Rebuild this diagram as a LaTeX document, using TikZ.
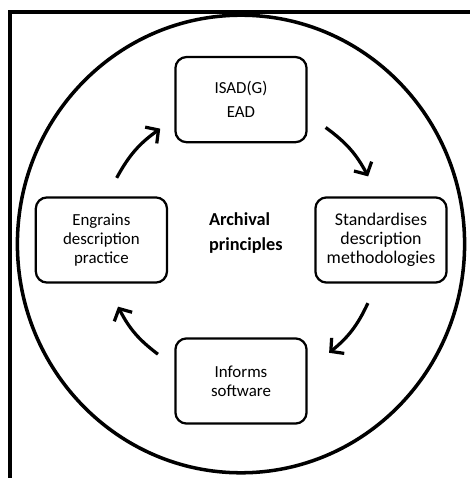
\documentclass[tikz,border=0pt]{standalone}
\usepackage{fontspec}
\setmainfont{Carlito}
\usetikzlibrary{positioning, arrows.meta}

\begin{document}
\begin{tikzpicture}[
        stage/.style={draw, line width=1.6pt, rounded corners=8pt, minimum width=3.28cm, minimum height=2.13cm, align=center, font=\fontsize{12}{13.5}\selectfont},
        cyc/.style={-{Straight Barb[length=2.3mm,width=5mm]}, line width=2.3pt},
        frame/.style={line width=2.5pt},
    ]
    \clip (-6.025,-5.85) rectangle (5.725,6.1);

    % Frame and ring
    \draw[frame] (-5.775,5.8) rectangle (7,-7);
    \draw[frame] (0,0) ellipse [x radius=5.59cm, y radius=5.72cm];

    % Centre label
    \node[font=\bfseries\fontsize{13}{17.8}\selectfont, align=left] (hub) at (0.12,0.28) {Archival\\principles};

    % Stages of the cycle
    \node[stage] (isad) at (0,3.61) {ISAD(G)\\[3.5pt]EAD};
    \node[stage, font=\fontsize{12.7}{13.5}\selectfont] (std) at (3.5,0.1) {Standardises\\description\\methodologies};
    \node[stage] (inf) at (0,-3.425) {Informs\\software};
    \node[stage] (eng) at (-3.49,0.1) {Engrains\\description\\practice};

    % Cycle arrows
    \foreach \i/\a/\b/\r in {1/152/125/3.52, 2/54/28/3.6, 3/-25/-51/3.5, 4/233/207/3.45} {
        \coordinate (s\i) at (\a:\r);
        \coordinate (e\i) at (\b:\r);
        \draw[cyc] (s\i) to[bend left=13] (e\i);
    }

\end{tikzpicture}
\end{document}
